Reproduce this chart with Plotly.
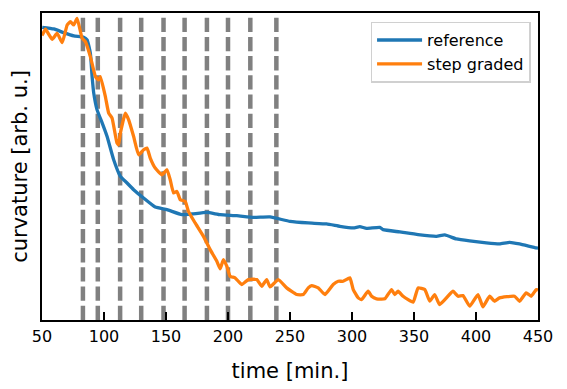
import plotly.graph_objects as go

# ---- data (curvature in arbitrary units) ----
ref_time = [50.2, 59.5, 67.5, 75.6, 83.6, 86.4, 89.0, 90.4, 91.7, 94.4, 98.5, 102.5,
            107.8, 113.2, 118.6, 123.9, 131.9, 141.3, 150.8, 162.8, 170.9, 183.0,
            193.7, 207.1, 220.5, 233.9, 250.0, 264.7, 279.5, 290.2, 301.0, 306.3,
            311.7, 322.4, 325.1, 338.5, 353.3, 368.1, 374.8, 384.2, 394.9, 408.3,
            419.0, 427.1, 435.1, 448.6, 450.0]
ref_curv = [293.2, 291.5, 287.8, 284.5, 283.2, 280.5, 267.2, 243.8, 227.5, 210.5,
            197.5, 183.8, 160.5, 143.8, 137.2, 130.5, 122.2, 113.2, 110.5, 105.5,
            106.2, 107.8, 105.5, 104.5, 102.8, 103.2, 98.8, 97.2, 96.2, 93.8, 92.2,
            93.5, 91.8, 92.8, 90.5, 88.2, 85.5, 83.8, 85.2, 81.2, 79.2, 77.2, 76.2,
            77.8, 76.2, 72.2, 72.0]

step_time = [50.0, 51.0, 52.8, 58.2, 62.2, 66.3, 70.3, 72.9, 75.6, 78.3, 81.0, 82.4,
             85.0, 89.0, 93.1, 95.7, 97.1, 101.1, 103.8, 106.5, 110.5, 111.8, 113.2,
             117.2, 119.9, 123.9, 127.9, 131.9, 134.7, 137.3, 141.3, 146.7, 150.8,
             153.4, 156.1, 158.8, 161.5, 165.5, 168.1, 173.5, 180.2, 185.6, 191.0,
             193.7, 196.3, 199.1, 201.7, 205.7, 211.1, 216.4, 223.2, 227.2, 231.2,
             233.9, 240.6, 247.3, 255.4, 260.7, 264.7, 267.5, 272.8, 278.2, 284.8,
             288.9, 292.9, 298.3, 301.0, 305.0, 307.7, 313.0, 315.8, 319.8, 326.5,
             331.9, 334.5, 337.2, 341.2, 349.3, 353.3, 358.7, 362.7, 366.7, 370.7,
             381.4, 385.5, 389.5, 394.9, 401.6, 405.6, 411.0, 415.0, 419.0, 431.1,
             435.1, 440.5, 444.5, 448.6, 450.0]
step_curv = [285.0, 287.2, 291.2, 281.2, 287.2, 277.8, 295.5, 298.8, 295.5, 302.2,
             288.8, 282.2, 278.8, 263.8, 243.8, 240.5, 243.8, 223.8, 207.2, 202.2,
             177.2, 175.5, 187.2, 207.2, 200.5, 183.8, 165.5, 170.5, 172.2, 162.2,
             152.2, 145.5, 150.5, 140.5, 127.2, 128.8, 120.5, 118.8, 108.8, 97.2,
             83.8, 70.5, 58.8, 51.2, 60.5, 53.8, 43.8, 42.2, 35.5, 40.5, 40.5, 33.8,
             40.5, 33.2, 40.5, 32.2, 25.5, 25.5, 32.2, 34.5, 32.2, 25.5, 35.5, 38.8,
             38.8, 42.2, 30.5, 22.2, 20.5, 28.8, 23.8, 21.2, 21.2, 30.5, 25.5, 28.8,
             23.8, 17.8, 32.2, 30.5, 18.8, 25.5, 15.5, 28.8, 23.8, 24.5, 13.8, 25.5,
             13.2, 23.8, 18.8, 22.2, 23.8, 18.8, 27.2, 23.8, 30.5, 30.0]

step_times = [83, 95, 113, 130, 148, 165, 183, 200, 218, 239]

x_ticks = [50, 100, 150, 200, 250, 300, 350, 400, 450]

FONT = "DejaVu Sans"

fig = go.Figure()

fig.add_trace(go.Scatter(x=ref_time, y=ref_curv, mode="lines", name="reference",
                         line=dict(color="#1f77b4", width=3.3, shape="spline", smoothing=0.4)))
fig.add_trace(go.Scatter(x=step_time, y=step_curv, mode="lines", name="step graded",
                         line=dict(color="#ff7f0e", width=3.3, shape="spline", smoothing=0.4)))

for t in step_times:
    fig.add_shape(type="line", xref="x", yref="paper", x0=t, x1=t, y0=0, y1=1,
                  line=dict(color="#808080", width=4.5, dash="14.3px,4.9px"),
                  layer="below")

# the page body adds an 8px offset; figure is sized to fit the 567x389 window
fig.update_layout(
    width=559, height=381,
    margin=dict(l=33.5, r=28.5, t=5, b=68.5),
    paper_bgcolor="white", plot_bgcolor="white",
    font=dict(family=FONT, color="black", size=16),
    showlegend=True,
    legend=dict(x=0.985, y=0.972, xanchor="right", yanchor="top",
                bgcolor="rgba(255,255,255,0.8)", bordercolor="#d0d0d0", borderwidth=1.5,
                font=dict(family=FONT, size=16), itemwidth=45),
    xaxis=dict(range=[50, 450], tickvals=x_ticks, ticktext=[str(v) for v in x_ticks],
               ticks="inside", ticklen=8, tickwidth=2, tickcolor="black",
               showline=True, linewidth=2, linecolor="black", mirror=True,
               showgrid=False, zeroline=False, automargin=False,
               tickfont=dict(family=FONT, size=16), ticklabelstandoff=1,
               title=dict(text="time [min.]", font=dict(family=FONT, size=21), standoff=18)),
    yaxis=dict(range=[0, 307.5], showticklabels=False, ticks="",
               showline=True, linewidth=2, linecolor="black", mirror=True,
               showgrid=False, zeroline=False, automargin=False,
               title=dict(text="curvature [arb. u.]", font=dict(family=FONT, size=21),
                          standoff=9)),
)

fig.write_html("out.html")
